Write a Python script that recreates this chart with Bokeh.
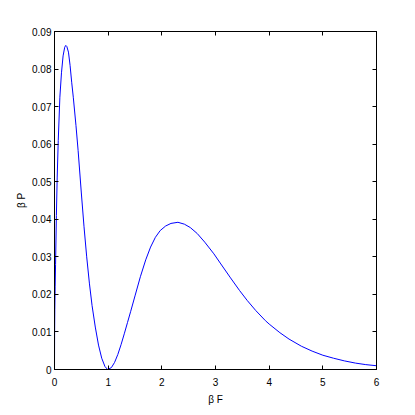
from bokeh.plotting import figure
from bokeh.models import LinearAxis, FixedTicker, Range1d
from bokeh.embed import file_html
from bokeh.resources import INLINE

# Curve
beta_f = [0.0, 0.002, 0.006, 0.012, 0.02, 0.035, 0.05, 0.07, 0.10, 0.13, 0.16, 0.19,
          0.21, 0.23, 0.26, 0.29, 0.32, 0.35, 0.40, 0.44, 0.50, 0.55, 0.60, 0.65,
          0.70, 0.76, 0.82, 0.88, 0.94, 0.99, 1.06, 1.12, 1.18, 1.24, 1.30, 1.36,
          1.42, 1.50, 1.60, 1.70, 1.79, 1.88, 1.97, 2.07, 2.17, 2.30, 2.42, 2.53,
          2.66, 2.80, 2.97, 3.10, 3.28, 3.45, 3.59, 3.75, 3.93, 4.00, 4.20, 4.37,
          4.60, 4.80, 5.00, 5.20, 5.40, 5.61, 5.80, 6.00]
beta_p = [0.0, 0.009, 0.016, 0.022, 0.028, 0.041, 0.051, 0.061, 0.0725, 0.079, 0.0835, 0.0858,
          0.0863, 0.0860, 0.0845, 0.0810, 0.0765, 0.0725, 0.0650, 0.0583, 0.0470, 0.0380, 0.0300, 0.0230,
          0.0170, 0.0113, 0.0065, 0.0030, 0.0008, 0.0, 0.0005, 0.0019, 0.0040, 0.0066, 0.0095, 0.0125,
          0.0155, 0.0196, 0.0247, 0.0292, 0.0326, 0.0352, 0.0370, 0.0382, 0.0389, 0.0392, 0.0387, 0.0378,
          0.0362, 0.0339, 0.0308, 0.0281, 0.0244, 0.0210, 0.0184, 0.0157, 0.0130, 0.0121, 0.0098, 0.0081,
          0.0062, 0.0049, 0.0038, 0.0030, 0.0023, 0.0017, 0.0013, 0.0010]

x_ticks = [0, 1, 2, 3, 4, 5, 6]
x_tick_labels = ["0", "1", "2", "3", "4", "5", "6"]
y_ticks = [0, 0.01, 0.02, 0.03, 0.04, 0.05, 0.06, 0.07, 0.08, 0.09]
y_tick_labels = ["0", "0.01", "0.02", "0.03", "0.04", "0.05", "0.06", "0.07", "0.08", "0.09"]
x_label = "β F"
y_label = "β P"

FONT = "Liberation Sans"

p = figure(width=408, height=408, output_backend="svg", toolbar_location=None,
           x_range=Range1d(0, 6), y_range=Range1d(0, 0.09),
           min_border_left=54, min_border_right=32, min_border_top=31, min_border_bottom=39)
p.xgrid.visible = False
p.ygrid.visible = False
p.outline_line_color = "black"
p.outline_line_width = 1

p.line(beta_f, beta_p, line_color="#0000ff", line_width=1)

def style(ax, ticks, labels, show_labels):
    ax.ticker = FixedTicker(ticks=ticks)
    if show_labels:
        ax.major_label_overrides = {t: l for t, l in zip(ticks, labels)}
    else:
        ax.major_label_overrides = {t: "" for t in ticks}
    ax.minor_tick_line_color = None
    ax.major_tick_in = 4
    ax.major_tick_out = 0
    ax.axis_line_color = "black"
    ax.major_tick_line_color = "black"
    ax.major_label_text_font = FONT
    ax.major_label_text_font_size = "10px"
    ax.major_label_text_color = "black"
    ax.axis_label_text_font = FONT
    ax.axis_label_text_font_size = "10px"
    ax.axis_label_text_font_style = "normal"
    ax.axis_label_text_color = "black"

xa = p.xaxis[0]
ya = p.yaxis[0]
style(xa, x_ticks, x_tick_labels, True)
style(ya, y_ticks, y_tick_labels, True)
xa.axis_label = x_label
ya.axis_label = y_label
xa.major_label_standoff = 8
xa.axis_label_standoff = 5
ya.major_label_standoff = 3
ya.axis_label_standoff = 2

top = LinearAxis()
style(top, x_ticks, x_tick_labels, False)
top.major_label_standoff = 0
p.add_layout(top, "above")
right = LinearAxis()
style(right, y_ticks, y_tick_labels, False)
right.major_label_standoff = 0
p.add_layout(right, "right")

open("out.html", "w").write(file_html(p, INLINE))
